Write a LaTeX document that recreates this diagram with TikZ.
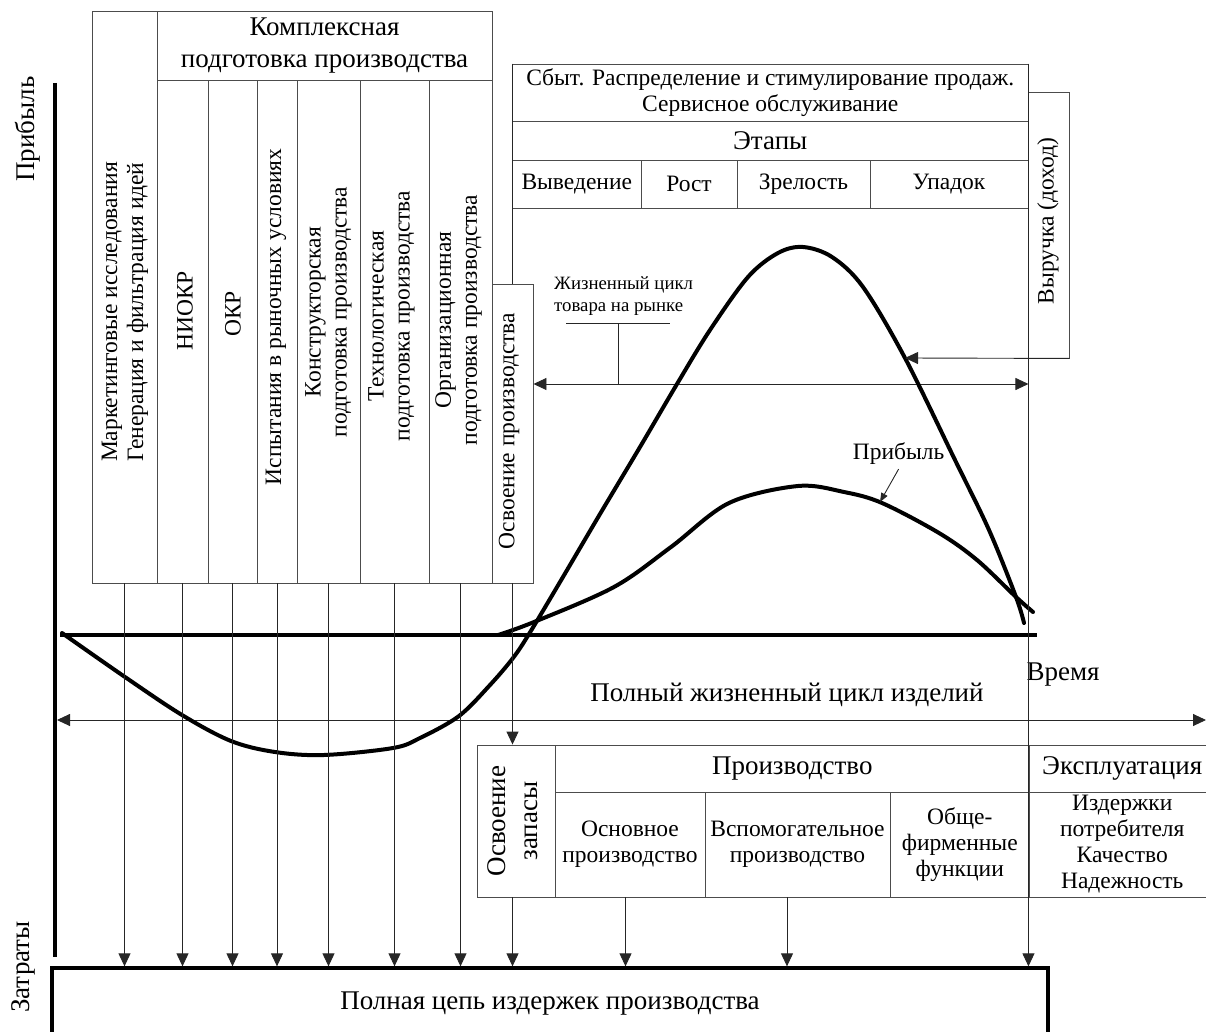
\documentclass[tikz,border=0pt]{standalone}
\usepackage{fontspec}
\setmainfont{Liberation Serif}
\usetikzlibrary{arrows.meta}

\newcommand{\fnorm}{\fontsize{23.5pt}{26pt}\selectfont}
\newcommand{\fbig}{\fontsize{27pt}{32pt}\selectfont}
\newcommand{\fsmall}{\fontsize{18.8pt}{22pt}\selectfont}

\begin{document}
\begin{tikzpicture}[x=1pt, y=-1pt, every node/.style={font=\fnorm, inner sep=0pt}, >={Triangle[length=13pt, width=12pt]}, cell/.style 2 args={draw=black!70, line width=0.9pt, minimum width=#1, minimum height=#2, align=center}, vtext/.style={rotate=90, align=center}, thin/.style={draw=black!85, line width=0.9pt}, curve/.style={line width=4pt, line join=round, line cap=round}]
	\useasboundingbox (0,0) rectangle (1206,1032);
	% preparation columns
	\node[cell={65pt}{572pt}] (mark) at (124.5,297) {};
	\node[cell={335pt}{69pt}, font=\fbig] (kompl) at (324.5,45.5) {Комплексная\\ подготовка производства};
	\node[cell={51pt}{503pt}] (niokr) at (182.5,331.5) {};
	\node[cell={49pt}{503pt}] (okr) at (232.5,331.5) {};
	\node[cell={40pt}{503pt}] (isp) at (277,331.5) {};
	\node[cell={63pt}{503pt}] (konstr) at (328.5,331.5) {};
	\node[cell={69pt}{503pt}] (tekhn) at (394.5,331.5) {};
	\node[cell={63pt}{503pt}] (org) at (460.5,331.5) {};
	\node[cell={41pt}{299pt}] (osvpr) at (512.5,433.5) {};
	\node[vtext] (t-mark) at (125,312) {Маркетинговые исследования\\ Генерация и фильтрация идей};
	\node[vtext] (t-niokr) at (185,311) {НИОКР};
	\node[vtext] (t-okr) at (233,314) {ОКР};
	\node[vtext] (t-isp) at (276,317) {Испытания в рыночных условиях};
	\node[vtext] (t-konstr) at (328.5,312) {Конструкторская\\ подготовка производства};
	\node[vtext] (t-tekhn) at (391.5,316) {Технологическая\\ подготовка производства};
	\node[vtext] (t-org) at (458.5,320) {Организационная\\ подготовка производства};
	\node[vtext] (t-osvpr) at (509,431) {Освоение производства};
	% sales block
	\node[cell={515.5pt}{57pt}] (sbyt) at (770.25,92.5) {Сбыт. Распределение и стимулирование продаж.\\ Сервисное обслуживание};
	\node[cell={515.5pt}{39pt}, font=\fbig] (etapy) at (770.25,140.5) {Этапы};
	\node[cell={128.5pt}{48pt}] (vyved) at (576.75,184) {Выведение};
	\node[cell={96pt}{48pt}] (rost) at (689,184) {Рост};
	\node[cell={133pt}{48pt}] (zrel) at (803.5,184) {Зрелость};
	\node[cell={158pt}{48pt}] (upad) at (949,184) {Упадок};
	\node[cell={41pt}{266pt}] (vyr) at (1048.5,225) {};
	\node[vtext] (t-vyr) at (1048,221) {Выручка (доход)};
	\draw[thin] (sbyt.north west) -- (sbyt.north west |- osvpr.north);
	% production block
	\node[cell={77.5pt}{152pt}] (zap) at (516.25,821) {};
	\node[vtext, font=\fbig] (t-zap) at (512.5,821) {Освоение\\ запасы};
	\node[cell={474.5pt}{47pt}, font=\fbig] (proizv) at (792.25,768.5) {Производство};
	\node[cell={150pt}{105pt}] (osn) at (630,844.5) {Основное\\ производство};
	\node[cell={185pt}{105pt}] (vspom) at (797.5,844.5) {Вспомогательное\\ производство};
	\node[cell={139.5pt}{105pt}] (obsh) at (959.75,844.5) {Обще-\\ фирменные\\ функции};
	\node[cell={185.5pt}{47pt}, font=\fbig] (ekspl) at (1122.25,768.5) {Эксплуатация};
	\node[cell={185.5pt}{105pt}] (izd) at (1122.25,844.5) {Издержки\\ потребителя\\ Качество\\ Надежность};
	\node[cell={996pt}{72pt}, draw=black, line width=3.3pt, font=\fbig] (cost) at (550,1004) {Полная цепь издержек производства};
	% axes
	\coordinate (ytop) at (55,83);
	\coordinate (ybot) at (55,957);
	\draw[line width=4pt] (ytop) -- (ybot);
	\node[vtext, font=\fbig] (lbl-profit) at (27.5,129) {Прибыль};
	\node[vtext, font=\fbig] (lbl-cost) at (23,967) {Затраты};
	\coordinate (t0) at (60,635);
	\coordinate (t1) at (1037,635);
	\draw[line width=4.5pt] (t0) -- (t1);
	\node[font=\fbig] (lbl-time) at (1063,675) {Время};
	\coordinate (life-l) at (57,720);
	\coordinate (life-r) at (1206,720);
	\draw[thin, <->] (life-l) -- (life-r);
	\node[font=\fbig] (lbl-life) at (787,695) {Полный жизненный цикл изделий};
	% market life cycle
	\node[font=\fsmall, align=left, anchor=west] (lbl-mkt) at (554,296) {Жизненный цикл\\ товара на рынке};
	\coordinate (br-l) at (566,323);
	\coordinate (br-r) at (670,323);
	\coordinate (br-m) at (618.5,323);
	\coordinate (mkt) at (618.5,384);
	\draw[thin] (br-l) -- (br-r);
	\draw[thin] (br-m) -- (mkt);
	\draw[thin, <->] (osvpr.east |- mkt) -- (sbyt.east |- mkt);
	% curves
	\draw[curve] plot[smooth, tension=0.55] coordinates {(62,633) (125,677) (182,715) (231,741) (275,752) (324,755) (393,748) (420,738) (459,716) (490,685) (513,658) (529,634) (560,582) (600,514) (640,447) (677,384) (710,330) (748,277) (778,253) (803,247) (832,257) (863,287) (905,358) (955,460) (989,530) (1016,597) (1024,623)};
	\draw[curve] plot[smooth, tension=0.55] coordinates {(498,635) (534,622) (614,587) (671,547) (729,503) (798,486) (844,492) (882,503) (939,533) (977,560) (1016,597) (1033,612)};
	\coordinate (rev-hit) at (905,358);
	\draw[thin, ->] (vyr.south east) -- (rev-hit);
	\node (lbl-pr) at (898.6,454) {Прибыль};
	\coordinate (pr-hit) at (880,502);
	\draw[thin, -{Triangle[length=9pt, width=7pt]}] ([yshift=-4pt]lbl-pr.south) -- (pr-hit);
	% cost arrows
	\foreach \c in {mark, niokr, okr, isp, konstr, tekhn, org}
		\draw[thin, ->] (\c.south) -- (\c.south |- cost.north);
	\draw[thin, ->] (osvpr.south) -- (osvpr.south |- zap.north);
	\draw[thin, ->] (osvpr.south |- zap.south) -- (osvpr.south |- cost.north);
	\draw[thin, ->] ([xshift=-4.5pt]osn.south) -- ([xshift=-4.5pt]osn.south |- cost.north);
	\draw[thin, ->] ([xshift=-10.5pt]vspom.south) -- ([xshift=-10.5pt]vspom.south |- cost.north);
	\draw[thin, ->] (sbyt.north east) -- (sbyt.north east |- cost.north);
\end{tikzpicture}
\end{document}
